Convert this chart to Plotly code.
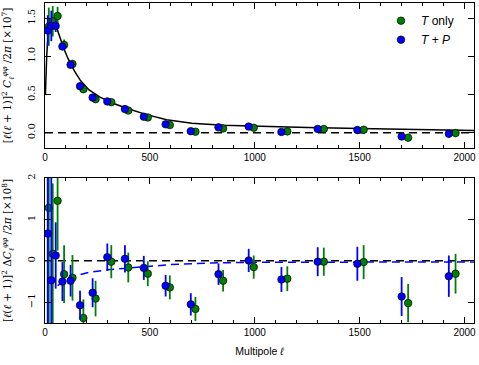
import plotly.graph_objects as go

# multipole bin centres (green points are drawn slightly offset)
ell_tp = [13, 30, 51, 83, 122, 167, 227, 297, 381, 471, 575, 695, 827, 971, 1127, 1300, 1489, 1700, 1925]
ell_t = [18, 37, 60, 91, 131, 183, 241, 316, 397, 490, 595, 717, 849, 995, 1155, 1329, 1519, 1731, 1957]

# top panel: [l(l+1)]^2 C_l^pp / 2pi  [x1e7]
cl_tp = [1.34, 1.40, 1.40, 1.13, 0.89, 0.61, 0.46, 0.41, 0.31, 0.21, 0.11, 0.02, 0.07, 0.08, 0.01, 0.05, 0.035, -0.05, -0.013]
cl_tp_err = [0.2, 0.2, 0.08, 0.047, 0.038, 0.035, 0.035, 0.033, 0.033, 0.029, 0.026, 0.027, 0.026, 0.028, 0.03, 0.035, 0.041, 0.047, 0.05]
cl_t = [1.39, 1.46, 1.53, 1.15, 0.90, 0.57, 0.44, 0.40, 0.29, 0.20, 0.10, 0.013, 0.056, 0.065, 0.017, 0.048, 0.039, -0.065, -0.005]
cl_t_err = [0.25, 0.2, 0.12, 0.07, 0.055, 0.045, 0.043, 0.04, 0.036, 0.03, 0.029, 0.029, 0.026, 0.028, 0.03, 0.034, 0.041, 0.046, 0.048]

# bottom panel: difference to fiducial  [x1e8]
dcl_tp = [0.66, -0.47, 0.13, -0.5, -0.48, -1.07, -0.77, 0.09, 0.05, -0.17, -0.6, -1.05, -0.32, 0.01, -0.45, -0.02, -0.07, -0.86, -0.37]
dcl_tp_err = [3.0, 3.0, 0.8, 0.47, 0.38, 0.35, 0.35, 0.33, 0.33, 0.29, 0.26, 0.27, 0.26, 0.28, 0.30, 0.35, 0.41, 0.47, 0.5]
dcl_t = [1.28, 0.17, 1.45, -0.32, -0.41, -1.38, -0.91, -0.02, -0.16, -0.31, -0.64, -1.16, -0.48, -0.15, -0.43, -0.02, -0.03, -1.02, -0.31]
dcl_t_err = [3.0, 1.7, 1.2, 0.7, 0.55, 0.45, 0.43, 0.4, 0.36, 0.3, 0.29, 0.29, 0.26, 0.28, 0.30, 0.34, 0.41, 0.46, 0.48]

# fiducial theory curve
ell_th = [2, 4, 8, 12, 20, 30, 40, 55, 70, 90, 110, 140, 170, 210, 260, 320, 400, 480, 580, 700, 850, 1000, 1250, 1500, 1750, 2050]
cl_th = [0.5, 0.75, 1.0, 1.18, 1.35, 1.43, 1.45, 1.38, 1.26, 1.10, 0.97, 0.81, 0.68, 0.56, 0.47, 0.39, 0.31, 0.24, 0.17, 0.125, 0.097, 0.083, 0.068, 0.055, 0.043, 0.028]

# best-fit minus fiducial (blue dashed)
ell_fit = [60, 90, 135, 215, 310, 405, 500, 600, 800, 1000, 1500, 2050]
dcl_fit = [-0.6, -0.48, -0.37, -0.27, -0.21, -0.17, -0.13, -0.09, -0.05, -0.035, -0.03, -0.03]

GREEN = "#008000"
BLUE = "#0000ff"
SANS = "Liberation Sans"
SERIF = "DejaVu Serif"

fig = go.Figure()


def points(x, y, err, color, name, yaxis, show):
    fig.add_trace(go.Scatter(
        x=x, y=y, mode="markers", name=name, showlegend=show,
        xaxis="x" if yaxis == "y" else "x2", yaxis=yaxis,
        marker=dict(size=7.5, color=color, line=dict(color="black", width=0.7)),
        error_y=dict(type="data", array=err, color=color, thickness=1.8, width=0),
    ))


fig.add_trace(go.Scatter(x=ell_th, y=cl_th, mode="lines", line=dict(color="black", width=1.5),
                         showlegend=False, xaxis="x", yaxis="y"))
points(ell_t, cl_t, cl_t_err, GREEN, "<i>T</i> only", "y", True)
points(ell_tp, cl_tp, cl_tp_err, BLUE, "<i>T</i> + <i>P</i>", "y", True)

fig.add_trace(go.Scatter(x=ell_fit, y=dcl_fit, mode="lines", line=dict(color=BLUE, width=1.5, dash="8px,5px"),
                         showlegend=False, xaxis="x2", yaxis="y2"))
points(ell_t, dcl_t, dcl_t_err, GREEN, "T", "y2", False)
points(ell_tp, dcl_tp, dcl_tp_err, BLUE, "TP", "y2", False)

for yref in ("y", "y2"):
    fig.add_shape(type="line", xref="paper", yref=yref, x0=0, x1=1, y0=0, y1=0,
                  line=dict(color="black", width=1.5, dash="8px,5px"), layer="below")

xcommon = dict(range=[0, 2045], tick0=0, dtick=500, ticks="inside", ticklen=6, tickcolor="black",
               showline=True, mirror="ticks", linecolor="black", linewidth=1, showgrid=False, zeroline=False,
               minor=dict(dtick=100, ticks="inside", ticklen=3, tickcolor="black"), automargin=False,
               tickfont=dict(family=SANS, size=10, color="black"))
ycommon = dict(ticks="inside", ticklen=6, tickcolor="black", showline=True, mirror="ticks",
               linecolor="black", linewidth=1, showgrid=False, zeroline=False, tickangle=-90, automargin=False,
               ticklabelstandoff=5, tickfont=dict(family=SERIF, size=10, color="black"))

fig.update_layout(
    width=479, height=365,
    margin=dict(l=45, r=5, t=3, b=42),
    plot_bgcolor="white", paper_bgcolor="white",
    xaxis=dict(domain=[0, 1], anchor="y", **xcommon),
    xaxis2=dict(domain=[0, 1], anchor="y2",
                title=dict(text="Multipole <i>ℓ</i>", font=dict(family=SANS, size=10.5, color="black"), standoff=10),
                **xcommon),
    yaxis=dict(domain=[0.547, 1], anchor="x", range=[-0.2, 1.7], dtick=0.5, tickformat=".1f",
               title=dict(text="[<i>ℓ</i>(<i>ℓ</i> + 1)]<sup>2</sup> <i>C</i><sub><i>ℓ</i></sub><sup><i>φφ</i></sup> /2<i>π</i> [×10<sup>7</sup>]",
                          font=dict(family=SERIF, size=10.5, color="black"), standoff=12),
               **ycommon),
    yaxis2=dict(domain=[0, 0.453], anchor="x2", range=[-1.5, 2], dtick=1,
                title=dict(text="[<i>ℓ</i>(<i>ℓ</i> + 1)]<sup>2</sup> Δ<i>C</i><sub><i>ℓ</i></sub><sup><i>φφ</i></sup> /2<i>π</i> [×10<sup>8</sup>]",
                           font=dict(family=SERIF, size=10.5, color="black"), standoff=12),
                **ycommon),
    legend=dict(x=0.965, y=0.99, xanchor="right", yanchor="top", bgcolor="rgba(0,0,0,0)",
                font=dict(family=SANS, size=12, color="black"), itemwidth=30, tracegroupgap=0),
)

# the page body has a default margin; drop it so the figure sits at the window's corner
fig.write_html("out.html", config={"displayModeBar": False},
               post_script="document.body.style.margin='0px';")
